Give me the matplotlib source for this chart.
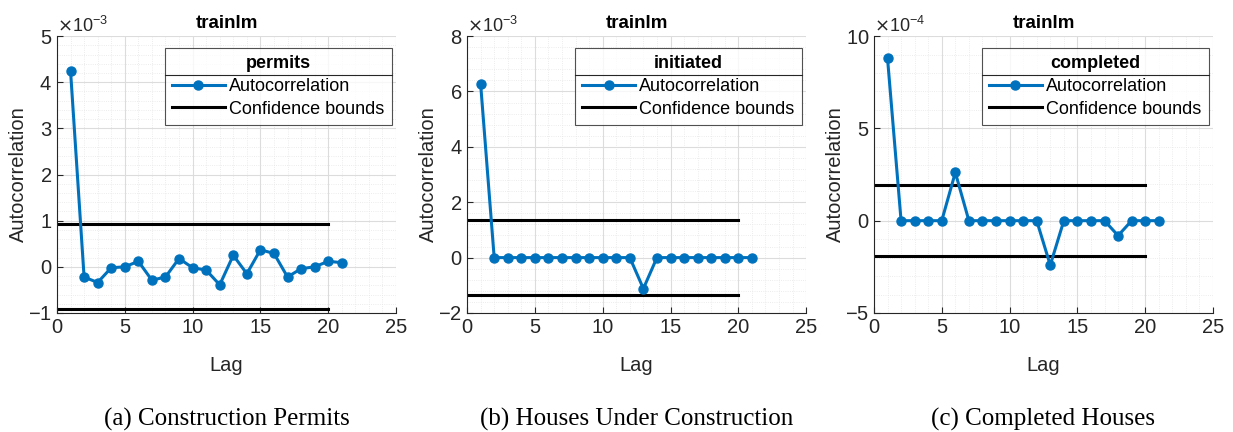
import numpy as np
import matplotlib
matplotlib.use("Agg")
import matplotlib.pyplot as plt
from matplotlib.ticker import ScalarFormatter, MultipleLocator
from matplotlib.lines import Line2D

plt.rcParams["font.family"] = ["Liberation Sans", "DejaVu Sans"]

lags = list(range(1, 22))

# autocorrelation values
acf_permits = [4.25e-3, -0.22e-3, -0.34e-3, -0.02e-3, 0.0, 0.12e-3, -0.29e-3,
               -0.22e-3, 0.18e-3, -0.02e-3, -0.07e-3, -0.39e-3, 0.25e-3,
               -0.15e-3, 0.37e-3, 0.29e-3, -0.22e-3, -0.04e-3, 0.0, 0.12e-3,
               0.09e-3]
acf_initiated = [6.27e-3] + [0.0] * 11 + [-1.12e-3] + [0.0] * 8
acf_completed = [8.8e-4, 0, 0, 0, 0, 2.61e-4, 0, 0, 0, 0, 0, 0, -2.41e-4,
                 0, 0, 0, 0, -0.81e-4, 0, 0, 0]

bounds = [0.92e-3, 1.35e-3, 1.91e-4]
series_names = ["permits", "initiated", "completed"]
captions = ["(a) Construction Permits", "(b) Houses Under Construction",
            "(c) Completed Houses"]
ylims = [(-1e-3, 5e-3), (-2e-3, 8e-3), (-5e-4, 10e-4)]
yticks = [np.arange(-1, 6) * 1e-3, np.arange(-2, 9, 2) * 1e-3,
          np.array([-5, 0, 5, 10]) * 1e-4]
yminor = [0.2e-3, 0.4e-3, 1e-4]
exps = [-3, -3, -4]

blue = "#0072BD"
lefts = [0.0462, 0.3788, 0.7088]
leg_fs = 13
leg_sp = 0.32

fig = plt.figure(figsize=(12.33, 4.32), dpi=100)
legends = []
for i, acf in enumerate([acf_permits, acf_initiated, acf_completed]):
    ax = fig.add_axes([lefts[i], 0.2755, 0.275, 0.641])
    ax.plot(lags, acf, "-o", color=blue, lw=2.2, ms=6.5, zorder=3)
    ax.plot([0, 20], [bounds[i], bounds[i]], color="black", lw=2.2, zorder=2)
    ax.plot([0, 20], [-bounds[i], -bounds[i]], color="black", lw=2.2, zorder=2)
    ax.set_xlim(0, 25)
    ax.set_ylim(*ylims[i])
    ax.set_xticks(range(0, 26, 5))
    ax.set_yticks(yticks[i])
    ax.xaxis.set_minor_locator(MultipleLocator(1))
    ax.yaxis.set_minor_locator(MultipleLocator(yminor[i]))
    fmt = ScalarFormatter(useMathText=True)
    fmt.set_powerlimits((exps[i], exps[i]))
    ax.yaxis.set_major_formatter(fmt)
    ax.yaxis.get_offset_text().set_fontsize(13)
    ax.yaxis.get_offset_text().set_color("#555555")
    ax.grid(which="major", color="#dcdcdc", lw=0.8)
    ax.grid(which="minor", color="#e6e6e6", lw=0.6, ls=":")
    ax.set_axisbelow(True)
    for s in ["top", "right"]:
        ax.spines[s].set_visible(False)
    for s in ["left", "bottom"]:
        ax.spines[s].set_color("#262626")
    ax.tick_params(which="both", direction="in", labelsize=14.5, colors="#262626")
    ax.tick_params(which="minor", length=0)
    ax.tick_params(which="major", length=4)
    ax.set_title("trainlm", fontsize=13.5, fontweight="bold", pad=6)
    ax.set_xlabel("Lag", fontsize=14.5, color="#262626", labelpad=14)
    ax.set_ylabel("Autocorrelation", fontsize=14.5, color="#262626", labelpad=0)
    handles = [Line2D([], [], color=blue, marker="o", lw=2.2, ms=6.5),
               Line2D([], [], color="black", lw=2.2)]
    leg = ax.legend(handles, ["Autocorrelation", "Confidence bounds"],
                    title=series_names[i], loc="upper right",
                    bbox_to_anchor=(0.987, 0.957), fontsize=leg_fs,
                    title_fontproperties={"weight": "bold", "size": leg_fs},
                    frameon=True, fancybox=False, edgecolor="#262626",
                    handlelength=2.9, handletextpad=0.25, borderpad=0.4,
                    labelspacing=leg_sp, borderaxespad=0)
    leg.get_frame().set_linewidth(0.8)
    legends.append(leg)
    fig.text(lefts[i] + 0.1375, 0.015, captions[i], ha="center",
             fontsize=18, family="Liberation Serif")

# separator line between legend title and entries
fig.canvas.draw()
r = fig.canvas.get_renderer()
gap = leg_sp * leg_fs * fig.dpi / 72
for leg in legends:
    box = leg.get_window_extent(r)
    tbox = leg.get_title().get_window_extent(r)
    y = (tbox.y0 - gap / 2) / fig.bbox.height
    fig.add_artist(Line2D([box.x0 / fig.bbox.width, box.x1 / fig.bbox.width],
                          [y, y], color="#262626", lw=0.8))

fig.savefig("out.png", dpi=100, facecolor="white")
